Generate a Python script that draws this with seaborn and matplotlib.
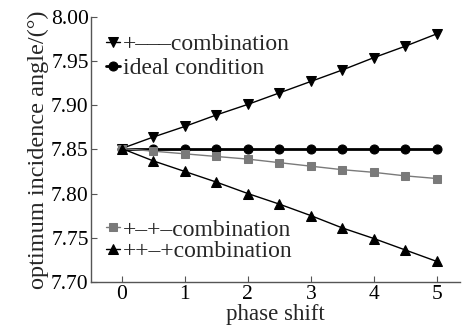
import matplotlib
matplotlib.use("Agg")
import matplotlib.pyplot as plt
import seaborn as sns
import pandas as pd

phase_shift = [0, 0.5, 1, 1.5, 2, 2.5, 3, 3.5, 4, 4.5, 5]
comb_pmmm = [7.851, 7.864, 7.876, 7.889, 7.901, 7.914, 7.927, 7.940, 7.954, 7.967, 7.981]
ideal = [7.851] * 11
comb_pmpm = [7.851, 7.848, 7.845, 7.842, 7.839, 7.835, 7.831, 7.827, 7.824, 7.820, 7.817]
comb_ppmp = [7.851, 7.837, 7.825, 7.813, 7.800, 7.788, 7.775, 7.761, 7.749, 7.736, 7.723]

labels = ["+–––combination", "ideal condition", "+–+–combination", "++–+combination"]
y_ticks = [7.70, 7.75, 7.80, 7.85, 7.90, 7.95, 8.00]

sns.set_style("ticks")
plt.rcParams['font.family'] = ['Liberation Serif', 'DejaVu Serif']

fig = plt.figure(figsize=(4.62, 3.28), dpi=100)
ax = fig.add_axes([0.198, 0.141, 0.798, 0.807])

styles = [
    (comb_pmmm, "v", "black", 1.0, 6.5),
    (ideal, "o", "black", 2.0, 6.5),
    (comb_pmpm, "s", "#7a7a7a", 1.0, 5.5),
    (comb_ppmp, "^", "black", 1.0, 6.5),
]
handles = []
for (vals, mk, col, lw, ms), lab in zip(styles, labels):
    df = pd.DataFrame({"x": phase_shift, "y": vals})
    sns.lineplot(data=df, x="x", y="y", ax=ax, color=col, marker=mk,
                 markersize=ms, linewidth=lw, markeredgecolor=col,
                 markerfacecolor=col, label=lab, legend=False)
    handles.append(ax.get_lines()[-1])

ax.set_xlim(-0.48, 5.37)
ax.set_ylim(7.70, 8.00)
ax.set_xticks([0, 1, 2, 3, 4, 5])
ax.set_yticks(y_ticks)
ax.set_yticklabels([f"{v:.2f}" for v in y_ticks])
ax.tick_params(direction="in", length=4, width=0.8, colors="#555555",
               labelcolor="black", labelsize=15.5, pad=2)
for s in ["top", "right"]:
    ax.spines[s].set_visible(False)
for s in ["left", "bottom"]:
    ax.spines[s].set_color("#555555")
    ax.spines[s].set_linewidth(1.0)

ax.set_xlabel("phase shift", fontsize=16.5, labelpad=0)
ax.set_ylabel("optimum incidence angle/(°)", fontsize=17.5, labelpad=1)

leg1 = ax.legend(handles[:2], labels[:2], loc="upper left",
                 bbox_to_anchor=(0.0, 0.99), frameon=False, fontsize=17,
                 handlelength=0.6, handletextpad=0.15, labelspacing=0.1,
                 borderaxespad=0.2)
ax.add_artist(leg1)
ax.legend(handles[2:], labels[2:], loc="lower left",
          bbox_to_anchor=(0.0, 0.02), frameon=False, fontsize=17,
          handlelength=0.6, handletextpad=0.15, labelspacing=0.0,
          borderaxespad=0.2)

fig.savefig("out.png", dpi=100)
